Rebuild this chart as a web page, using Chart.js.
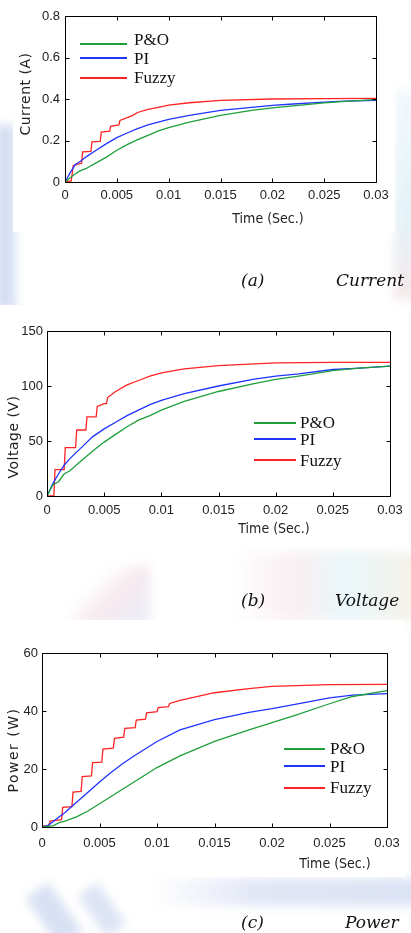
<!DOCTYPE html>
<html>
<head>
<meta charset="utf-8">
<script src="https://cdn.jsdelivr.net/npm/chart.js@4.4.1/dist/chart.umd.min.js"></script>
<style>
html, body { margin: 0; padding: 0; }
body { width: 411px; height: 933px; position: relative; overflow: hidden; background: #fff; }
.blob { position: absolute; filter: blur(5px); opacity: .75; }
.panel { position: absolute; background: #fff; }
canvas { position: absolute; left: 0; }
.xt { position: absolute; font: 14px 'DejaVu Sans Condensed', 'DejaVu Sans', sans-serif; font-stretch: condensed; color: #222; transform: translate(-50%, -50%); white-space: nowrap; }
.yt { position: absolute; font: 14px 'DejaVu Sans', sans-serif; letter-spacing: .5px; color: #222; transform: translate(-50%, -50%) rotate(-90deg); white-space: nowrap; }
.cap { position: absolute; font: italic 17px 'DejaVu Serif', serif; color: #111; transform: translateY(-50%); white-space: nowrap; }
.leg { position: absolute; left: 0; top: 0; font: 17px 'Liberation Serif', serif; color: #111; }
.leg .ln { position: absolute; height: 2px; margin-top: -1px; }
.leg .tx { position: absolute; transform: translateY(-50%); white-space: nowrap; }
</style>
</head>
<body>
<!-- watermark bits behind the figures -->
<div class="blob" style="left:-6px;top:125px;width:22px;height:185px;background:#c9d5ef;"></div>
<div class="blob" style="left:394px;top:90px;width:30px;height:210px;background:linear-gradient(#eef6fa,#dceef5 60%,#f3e2e4);"></div>
<div class="blob" style="left:70px;top:565px;width:80px;height:60px;background:linear-gradient(135deg,#fff 30%,#f3e3ea 55%,#e3e8f5);"></div>
<div class="blob" style="left:235px;top:552px;width:190px;height:70px;background:linear-gradient(90deg,#fff,#f7eaee 30%,#e3f4f8 60%,#f5ecdf);"></div>
<div class="blob" style="left:150px;top:878px;width:270px;height:28px;background:linear-gradient(90deg,#fff,#d8dff2 40%,#d0d9f0);"></div>
<div class="blob" style="left:40px;top:885px;width:28px;height:60px;background:#ccd7f0;transform:rotate(-35deg);"></div>
<div class="blob" style="left:90px;top:885px;width:24px;height:50px;background:#d2dbf1;transform:rotate(-35deg);"></div>

<div class="panel" style="left:13px;top:0;width:382px;height:232px;"></div>
<div class="panel" style="left:0;top:305px;width:395px;height:243px;"></div>
<div class="panel" style="left:0;top:620px;width:405px;height:257px;"></div>

<canvas id="chartA" width="411" height="232" style="top:0"></canvas>
<canvas id="chartB" width="411" height="250" style="top:300px"></canvas>
<canvas id="chartC" width="411" height="250" style="top:630px"></canvas>

<div class="xt" style="left:268px;top:218px">Time (Sec.)</div>
<div class="yt" style="left:25px;top:94px">Current (A)</div>
<div class="xt" style="left:274px;top:528px">Time (Sec.)</div>
<div class="yt" style="left:13px;top:437px">Voltage (V)</div>
<div class="xt" style="left:335px;top:863px">Time (Sec.)</div>
<div class="yt" style="left:13px;top:750px;letter-spacing:1.5px">Power (W)</div>

<div class="cap" style="left:241px;top:280px">(a)</div>
<div class="cap" style="left:336px;top:280px">Current</div>
<div class="cap" style="left:241px;top:600px">(b)</div>
<div class="cap" style="left:335px;top:600px">Voltage</div>
<div class="cap" style="left:241px;top:922px">(c)</div>
<div class="cap" style="left:345px;top:922px">Power</div>

<script>
// 时间轴（P&O 与 PI 共用）
const time = [0, 0.0005, 0.001, 0.0015, 0.002, 0.003, 0.004, 0.005, 0.006, 0.007, 0.008, 0.009, 0.01, 0.012, 0.015, 0.018, 0.02, 0.022, 0.025, 0.027, 0.03];
const seriesNames = ['P&O', 'PI', 'Fuzzy'];
const xTicks = [0, 0.005, 0.01, 0.015, 0.02, 0.025, 0.03];

// (a) Current
const pnoCurrent = [0, 0.02, 0.04, 0.055, 0.064, 0.092, 0.12, 0.153, 0.18, 0.204, 0.225, 0.246, 0.262, 0.289, 0.321, 0.345, 0.357, 0.367, 0.381, 0.389, 0.397];
const piCurrent = [0, 0.045, 0.085, 0.1, 0.12, 0.153, 0.185, 0.214, 0.236, 0.257, 0.275, 0.289, 0.302, 0.321, 0.345, 0.36, 0.369, 0.376, 0.385, 0.39, 0.394];
const fuzzyCurrentTime = [0, 0.0006, 0.0008, 0.0016, 0.0017, 0.0025, 0.0026, 0.0034, 0.0035, 0.0043, 0.0044, 0.0052, 0.0053, 0.006, 0.0065, 0.007, 0.008, 0.009, 0.01, 0.012, 0.015, 0.02, 0.025, 0.03];
const fuzzyCurrent = [0, 0.005, 0.08, 0.09, 0.145, 0.147, 0.193, 0.196, 0.24, 0.245, 0.268, 0.275, 0.297, 0.31, 0.32, 0.335, 0.35, 0.36, 0.37, 0.382, 0.393, 0.4, 0.402, 0.403];
const currentTicks = [0, 0.2, 0.4, 0.6, 0.8];

// (b) Voltage
const pnoVoltage = [0, 10, 13, 20, 23, 32, 41, 49, 56, 63, 69, 73, 78, 86, 95, 102, 106, 109, 114, 116, 118];
const piVoltage = [0, 11, 20, 28, 34, 44, 54, 61, 67, 73, 78, 83, 87, 93, 100, 106, 109, 111, 115, 116, 118];
const fuzzyVoltageTime = [0, 0.0006, 0.0007, 0.0015, 0.0016, 0.0025, 0.0026, 0.0034, 0.0035, 0.0043, 0.0044, 0.005, 0.0052, 0.0053, 0.006, 0.007, 0.008, 0.009, 0.01, 0.012, 0.015, 0.02, 0.025, 0.03];
const fuzzyVoltage = [0, 0, 24, 24, 44, 44, 60, 60, 72, 72, 81.5, 84, 84, 89.5, 95, 101, 105, 109, 112, 115.5, 118.5, 121, 121.5, 121.5];
const voltageTicks = [0, 50, 100, 150];

// (c) Power
const pnoPower = [0, 0.2, 0.5, 1.5, 2, 3.5, 5.5, 8, 10.5, 13, 15.5, 18, 20.5, 24.5, 29.5, 33.5, 36, 38.5, 42.5, 45, 47];
const piPower = [0, 0.5, 2, 3.5, 5, 8.5, 12, 15.5, 18.8, 21.8, 24.5, 27, 29.5, 33.5, 37, 39.5, 40.8, 42.3, 44.5, 45.5, 46];
const fuzzyPowerTime = [0, 0.0006, 0.0007, 0.0017, 0.0018, 0.0026, 0.0027, 0.0034, 0.0035, 0.0043, 0.0044, 0.0052, 0.0053, 0.0062, 0.0063, 0.0071, 0.0072, 0.0081, 0.0082, 0.009, 0.0091, 0.01, 0.0101, 0.011, 0.0111, 0.012, 0.015, 0.018, 0.02, 0.025, 0.03];
const fuzzyPower = [0.4, 0.5, 2, 2.5, 6.8, 7, 12, 12.3, 17.4, 17.6, 22.2, 22.4, 26.9, 27.2, 30.6, 31, 34, 34.3, 36.9, 37.2, 39.4, 39.8, 41.2, 41.5, 42.6, 43.7, 46.3, 47.7, 48.5, 49.1, 49.2];
const powerTicks = [0, 20, 40, 60];

const colors = ['#1e9f3a', '#1f34ff', '#ff2222'];

const toXY = (t, v) => t.map((x, i) => ({ x, y: v[i] }));

// MATLAB 风格的外框和朝内的刻度
const frameTicks = {
    id: 'frameTicks',
    afterDatasetsDraw(chart) {
        const { ctx, chartArea: a, scales: { x, y } } = chart;
        const l = Math.round(a.left) + 0.5, r = Math.round(a.right) + 0.5;
        const t = Math.round(a.top) + 0.5, b = Math.round(a.bottom) + 0.5;
        ctx.save();
        ctx.strokeStyle = '#000';
        ctx.lineWidth = 1;
        ctx.beginPath();
        x.ticks.forEach(tk => {
            const px = Math.round(x.getPixelForValue(tk.value)) + 0.5;
            ctx.moveTo(px, b); ctx.lineTo(px, b - 4);
            ctx.moveTo(px, t); ctx.lineTo(px, t + 4);
        });
        y.ticks.forEach(tk => {
            const py = Math.round(y.getPixelForValue(tk.value)) + 0.5;
            ctx.moveTo(l, py); ctx.lineTo(l + 4, py);
            ctx.moveTo(r, py); ctx.lineTo(r - 4, py);
        });
        ctx.rect(l, t, r - l, b - t);
        ctx.stroke();
        ctx.restore();
    }
};

function makeChart(id, series, yTicks, box, legendPos) {
    const datasets = series.map((s, i) => ({
        label: seriesNames[i],
        data: toXY(s[0], s[1]),
        borderColor: colors[i],
        borderWidth: 1.3,
        pointRadius: 0,
        tension: 0,
        fill: false,
    }));
    const tickFont = { family: "'Liberation Sans', Arial, sans-serif", size: 13 };
    const chart = new Chart(document.getElementById(id), {
        type: 'line',
        data: { datasets },
        options: {
            responsive: false,
            animation: false,
            layout: { padding: { top: box.top, right: box.right, left: 0, bottom: 0 } },
            plugins: { legend: { display: false }, tooltip: { enabled: false } },
            scales: {
                x: {
                    type: 'linear',
                    min: xTicks[0],
                    max: xTicks[xTicks.length - 1],
                    grid: { display: false, drawTicks: false },
                    border: { display: false },
                    afterBuildTicks: s => { s.ticks = xTicks.map(value => ({ value })); },
                    ticks: {
                        autoSkip: false, maxRotation: 0, padding: box.xPad,
                        color: '#222', font: tickFont,
                        callback: v => String(+v.toFixed(3)),
                    },
                    afterFit: s => { s.height = box.xh; },
                },
                y: {
                    type: 'linear',
                    min: yTicks[0],
                    max: yTicks[yTicks.length - 1],
                    grid: { display: false, drawTicks: false },
                    border: { display: false },
                    afterBuildTicks: s => { s.ticks = yTicks.map(value => ({ value })); },
                    ticks: {
                        padding: box.yPad, color: '#222', font: tickFont,
                        callback: v => String(+v.toFixed(2)),
                    },
                    afterFit: s => { s.width = box.yw; },
                },
            },
        },
        plugins: [frameTicks],
    });

    // 图例：用数据集的颜色和名字放在图内
    const leg = document.createElement('div');
    leg.className = 'leg';
    chart.data.datasets.forEach((ds, i) => {
        const ln = document.createElement('div');
        ln.className = 'ln';
        ln.style.left = legendPos.x + 'px';
        ln.style.width = legendPos.len + 'px';
        ln.style.top = legendPos.lines[i] + 'px';
        ln.style.background = ds.borderColor;
        const tx = document.createElement('div');
        tx.className = 'tx';
        tx.style.left = (legendPos.x + legendPos.len + legendPos.gap) + 'px';
        tx.style.top = legendPos.texts[i] + 'px';
        tx.textContent = ds.label;
        leg.appendChild(ln);
        leg.appendChild(tx);
    });
    document.body.appendChild(leg);
    return chart;
}

makeChart('chartA',
    [[time, pnoCurrent], [time, piCurrent], [fuzzyCurrentTime, fuzzyCurrent]],
    currentTicks,
    { top: 16, right: 35, yw: 65, xh: 50, xPad: 6, yPad: 5 },
    { x: 80, len: 47, gap: 7, lines: [44, 58, 78], texts: [40, 59, 78] });

makeChart('chartB',
    [[time, pnoVoltage], [time, piVoltage], [fuzzyVoltageTime, fuzzyVoltage]],
    voltageTicks,
    { top: 31, right: 21, yw: 47, xh: 54, xPad: 7, yPad: 4 },
    { x: 254, len: 42, gap: 4, lines: [423, 439, 460], texts: [423, 440, 461] });

makeChart('chartC',
    [[time, pnoPower], [time, piPower], [fuzzyPowerTime, fuzzyPower]],
    powerTicks,
    { top: 23, right: 24, yw: 42, xh: 53, xPad: 9, yPad: 4 },
    { x: 284, len: 41, gap: 5, lines: [749, 766, 788], texts: [749, 767, 788] });
</script>
</body>
</html>
